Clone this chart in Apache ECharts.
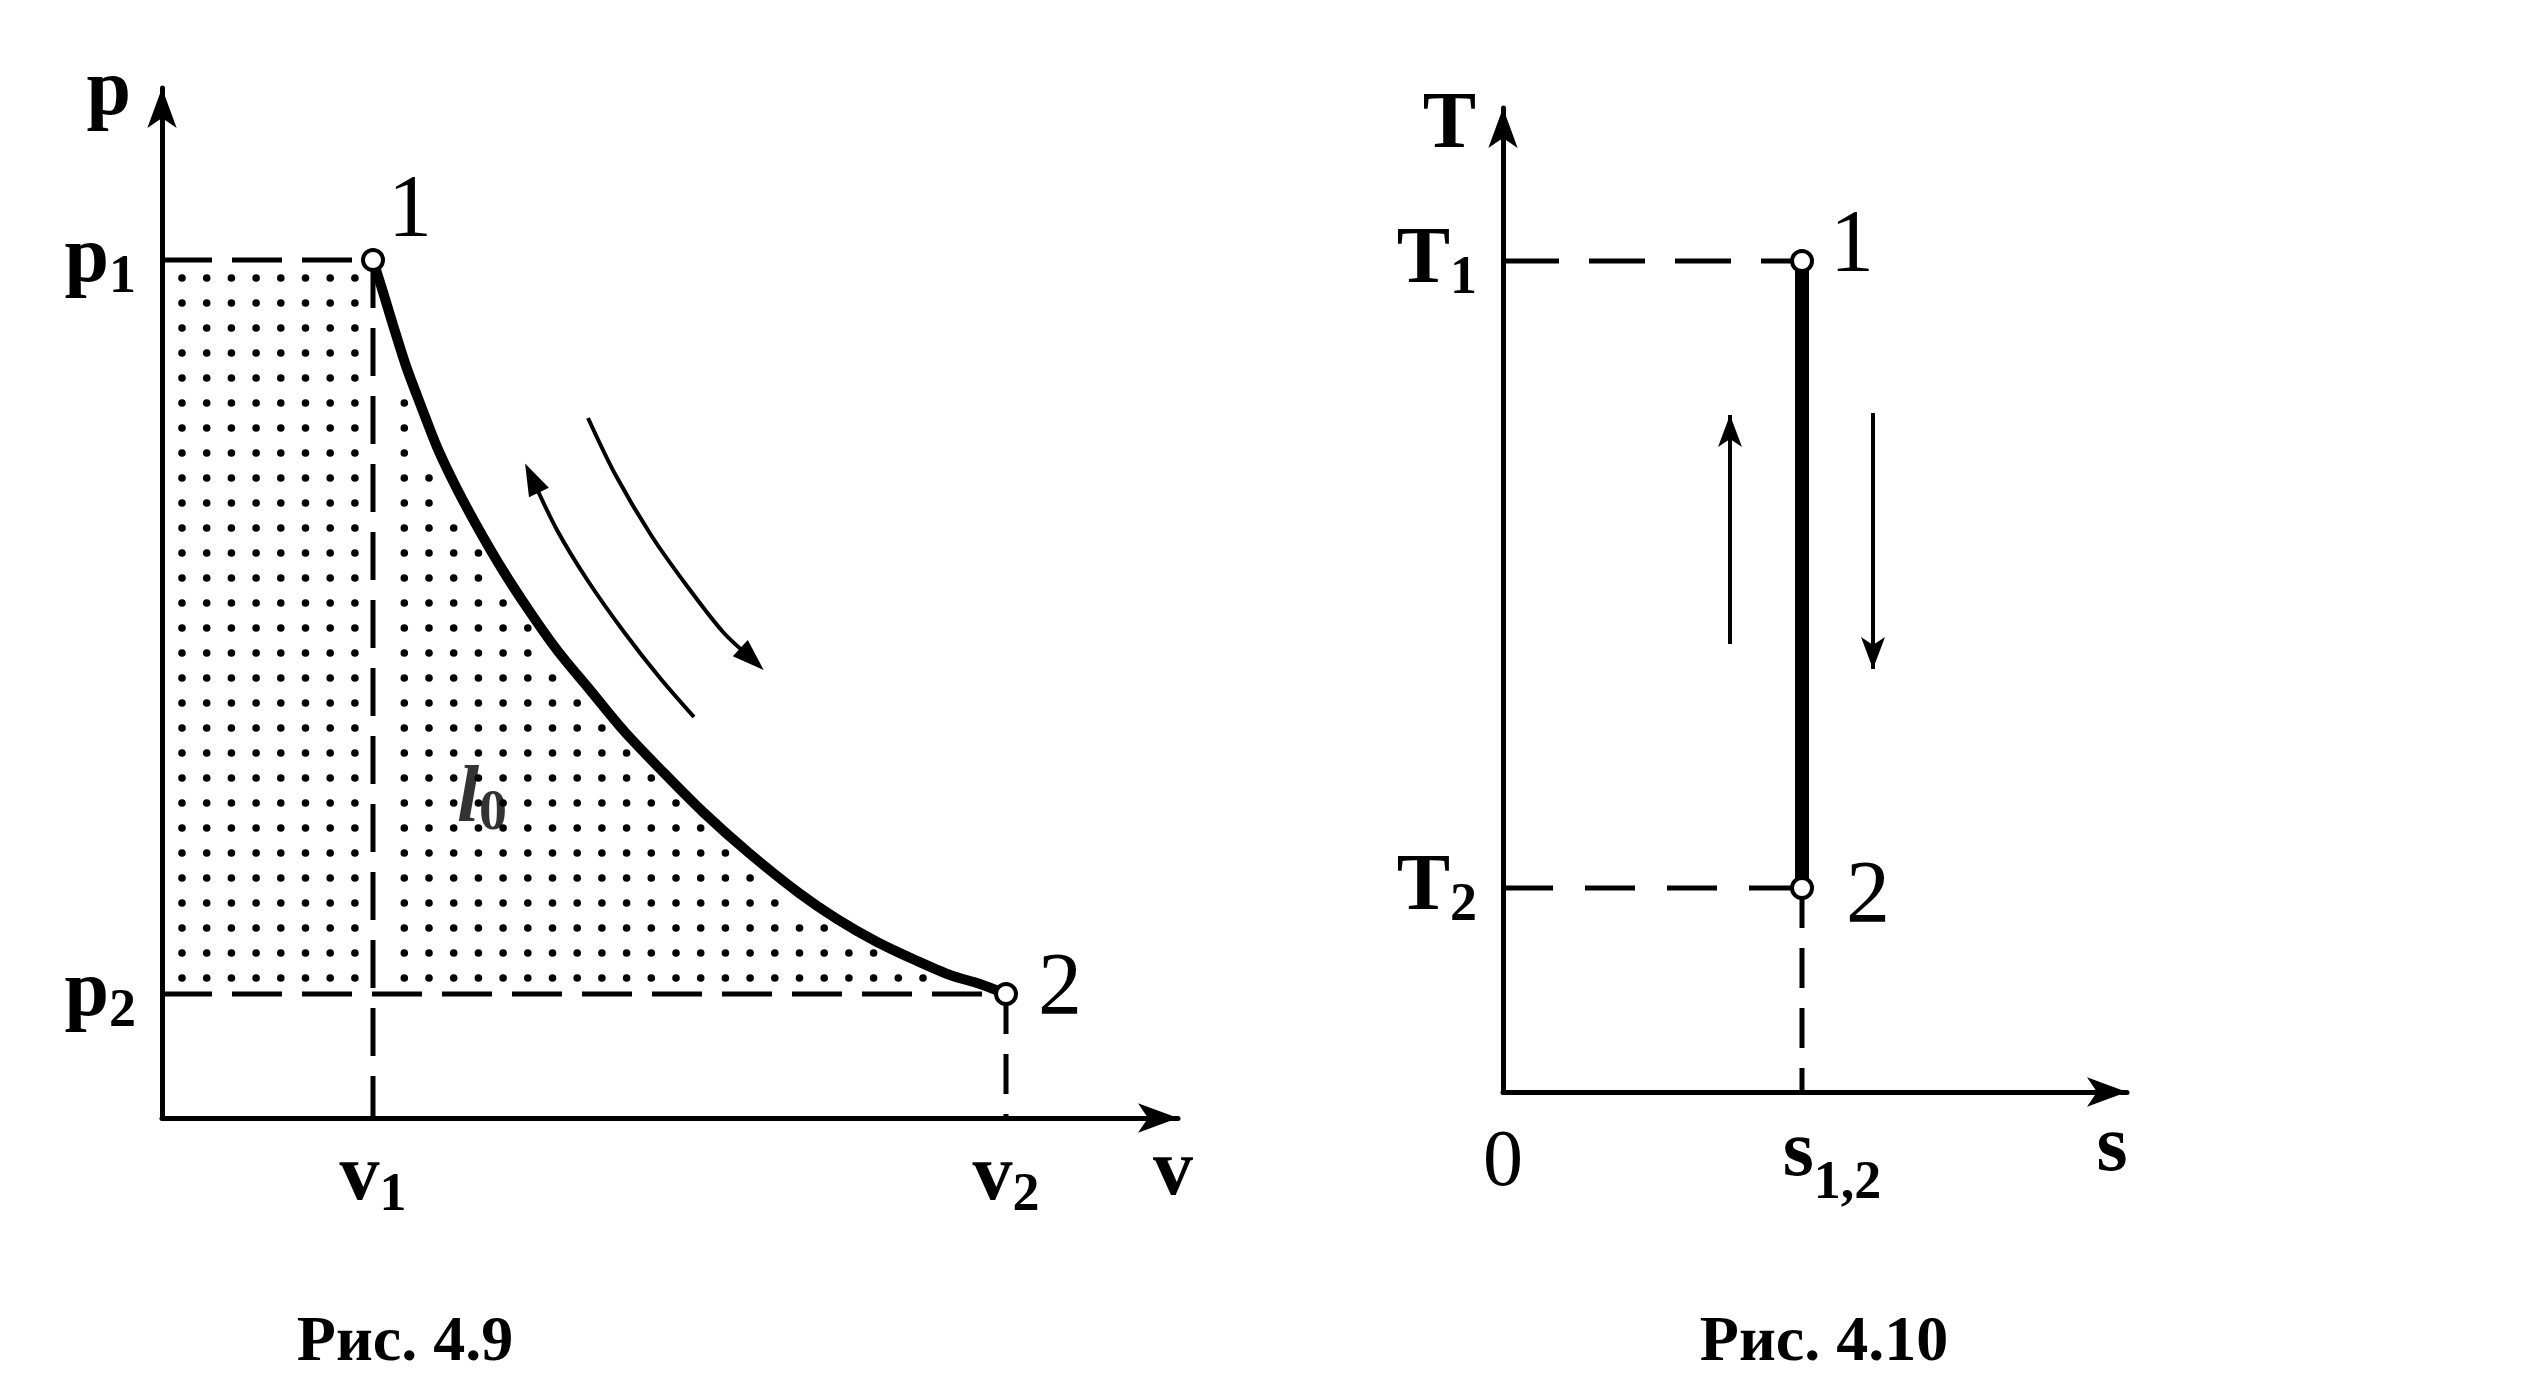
<!DOCTYPE html>
<html><head><meta charset="utf-8">
<style>html,body{margin:0;padding:0;background:#fff}#c{width:2547px;height:1384px}</style>
<script src="https://cdn.jsdelivr.net/npm/echarts@6/dist/echarts.min.js"></script>
</head><body><div id="c"></div>
<script>
// ===== DATA : p–v diagram (Рис. 4.9), arbitrary units =====
const V1 = 2.11, V2 = 8.44;          // specific volumes of states 1, 2
const P1 = 8.58, P2 = 1.24;          // pressures of states 1, 2
const curveV = [2.11, 2.21, 2.31, 2.44, 2.59, 2.75, 2.94, 3.16, 3.40, 3.66, 3.95, 4.28, 4.62, 5.01, 5.41, 5.87, 6.37, 6.75, 7.15, 7.53, 7.88, 8.18, 8.44];
const curveP = [8.58, 8.26, 7.93, 7.52, 7.12, 6.71, 6.31, 5.90, 5.49, 5.09, 4.68, 4.28, 3.87, 3.46, 3.06, 2.65, 2.25, 1.99, 1.76, 1.58, 1.43, 1.34, 1.24];
const pvPointNames = ['1', '2'];
const pvYTickValues = [P1, P2];
const pvYTickText = ['p1', 'p2'];
const pvXTickValues = [V1, V2];
const pvXTickText = ['v1', 'v2'];
const pvAxisNames = ['v', 'p'];
const workLabelText = ['l', '0'];
const workLabelAt = [3.20, 3.18];
// direction arrows drawn beside the curve (tail -> head)
const arrowBackV = [5.32, 4.98, 4.62, 4.26, 3.95, 3.70];
const arrowBackP = [4.01, 4.40, 4.86, 5.37, 5.88, 6.40];
const arrowFwdV = [4.26, 4.53, 4.89, 5.25, 5.61, 5.90];
const arrowFwdP = [7.00, 6.44, 5.83, 5.32, 4.86, 4.59];
const pvAxisMax = [10.16, 10.30];

// ===== DATA : T–s diagram (Рис. 4.10) =====
const S12 = 2.99;
const T1 = 8.31, T2 = 2.04;
const tsPointNames = ['1', '2'];
const tsYTickValues = [T1, T2];
const tsYTickText = ['T1', 'T2'];
const tsXTickValues = [0, S12];
const tsXTickText = ['0', 's1,2'];
const tsAxisNames = ['s', 'T'];
const upArrowS = 2.27, upArrowT = [4.48, 6.77];
const downArrowS = 3.70, downArrowT = [6.79, 4.23];
const tsAxisMax = [6.24, 9.84];

const captions = ['Рис. 4.9', 'Рис. 4.10'];

// ===== STYLE =====
const FONT = 'Liberation Serif';
const INK = '#000';
const F = 80, FS = 54;
const subStyle = {fontFamily: FONT, fontWeight: 'bold', fontSize: FS, color: INK, padding: [36, 0, 0, 0]};
const subStyleLow = {fontFamily: FONT, fontWeight: 'bold', fontSize: FS, color: INK, padding: [60, 0, 0, 0]};

function axisCommon() {
  return {
    type: 'value',
    axisLine: {show: true, onZero: false, symbol: ['none', 'arrow'], symbolSize: [22, 40],
      lineStyle: {color: INK, width: 5}},
    axisTick: {show: false},
    splitLine: {show: false}
  };
}
function subFormatter(values, texts) {
  return function (val) {
    let idx = 0, best = 1e9;
    values.forEach((t, i) => { const d = Math.abs(t - val); if (d < best) { best = d; idx = i; } });
    const t = texts[idx];
    if (t.length === 1) return '{z|' + t + '}';
    if (t.length > 2) return '{sp| }' + t[0] + '{s|' + t.slice(1) + '}';
    return t[0] + '{s|' + t.slice(1) + '}';
  };
}
const labelText = {fontFamily: FONT, fontWeight: 'bold', fontSize: F, color: INK, lineHeight: F};

function dashLine(pts, gi, dash) {
  return {type: 'line', xAxisIndex: gi, yAxisIndex: gi, data: pts, symbol: 'none', silent: true,
    lineStyle: {color: INK, width: 5, type: dash}, z: 3};
}
// curved arrow: smooth line through the read points + arrow head oriented along the last segment
function curvedArrow(vs, ps) {
  const n = vs.length;
  const dx = vs[n - 1] - vs[n - 2], dy = ps[n - 1] - ps[n - 2];  // both axes: 100 px per unit
  const rot = -Math.atan2(dx, dy) * 180 / Math.PI;
  return [
    {type: 'line', xAxisIndex: 0, yAxisIndex: 0, silent: true, z: 5,
     data: vs.map((v, i) => [v, ps[i]]), smooth: 0.3, symbol: 'none',
     lineStyle: {color: INK, width: 4}},
    {type: 'scatter', xAxisIndex: 0, yAxisIndex: 0, silent: true, z: 5,
     data: [[vs[n - 1], ps[n - 1]]], symbol: 'triangle', symbolSize: [22, 32], symbolRotate: rot,
     itemStyle: {color: INK, opacity: 1}}
  ];
}

// geometry helpers for the dotted fill
function insidePoly(x, y, poly) {
  let ins = false;
  for (let i = 0, j = poly.length - 1; i < poly.length; j = i++) {
    const xi = poly[i][0], yi = poly[i][1], xj = poly[j][0], yj = poly[j][1];
    if (((yi > y) !== (yj > y)) && (x < (xj - xi) * (y - yi) / (yj - yi) + xi)) ins = !ins;
  }
  return ins;
}
function distPolyline(x, y, pl) {
  let best = 1e9;
  for (let i = 0; i < pl.length - 1; i++) {
    const ax = pl[i][0], ay = pl[i][1], bx = pl[i + 1][0], by = pl[i + 1][1];
    const dx = bx - ax, dy = by - ay;
    let t = ((x - ax) * dx + (y - ay) * dy) / (dx * dx + dy * dy);
    t = Math.max(0, Math.min(1, t));
    const px = ax + t * dx, py = ay + t * dy;
    best = Math.min(best, Math.hypot(x - px, y - py));
  }
  return best;
}

const chart = echarts.init(document.getElementById('c'), null, {renderer: 'canvas', width: 2547, height: 1384});

const option = {
  animation: false,
  backgroundColor: '#fff',
  title: captions.map((t, i) => ({
    text: t, left: i === 0 ? 400 : 1819, top: 1306, textAlign: 'center',
    textStyle: {fontFamily: FONT, fontWeight: 'bold', fontSize: 64, color: INK}
  })),
  grid: [
    {left: 162, top: 88, width: 1016, height: 1030, outerBoundsMode: 'none'},
    {left: 1503, top: 108, width: 624, height: 984, outerBoundsMode: 'none'}
  ],
  xAxis: [
    Object.assign(axisCommon(), {
      gridIndex: 0, min: 0, max: pvAxisMax[0],
      axisLabel: {customValues: pvXTickValues, formatter: subFormatter(pvXTickValues, pvXTickText),
        margin: 20, verticalAlign: 'top', ...labelText, rich: {s: subStyle}},
      name: pvAxisNames[0], nameLocation: 'end', nameGap: -5,
      nameTextStyle: {...labelText, align: 'center', verticalAlign: 'top', padding: [15, 0, 0, 0]}
    }),
    Object.assign(axisCommon(), {
      gridIndex: 1, min: 0, max: tsAxisMax[0],
      axisLabel: {customValues: tsXTickValues, formatter: subFormatter(tsXTickValues, tsXTickText),
        margin: 22, verticalAlign: 'top', ...labelText,
        rich: {s: subStyleLow, z: {...labelText, fontWeight: 'normal', padding: [20, 0, 0, 0]}, sp: {width: 60, fontSize: FS}}},
      name: tsAxisNames[0], nameLocation: 'end', nameGap: -15,
      nameTextStyle: {...labelText, align: 'center', verticalAlign: 'top', padding: [17, 0, 0, 0]}
    })
  ],
  yAxis: [
    Object.assign(axisCommon(), {
      gridIndex: 0, min: 0, max: pvAxisMax[1],
      axisLabel: {customValues: pvYTickValues, formatter: subFormatter(pvYTickValues, pvYTickText),
        margin: 26, align: 'right', ...labelText, rich: {s: subStyle}},
      name: pvAxisNames[1], nameLocation: 'end', nameGap: -5,
      nameTextStyle: {...labelText, align: 'right', verticalAlign: 'middle', padding: [0, 31, 0, 0]}
    }),
    Object.assign(axisCommon(), {
      gridIndex: 1, min: 0, max: tsAxisMax[1],
      axisLabel: {customValues: tsYTickValues, formatter: subFormatter(tsYTickValues, tsYTickText),
        margin: 26, align: 'right', ...labelText, rich: {s: subStyle}},
      name: tsAxisNames[1], nameLocation: 'end', nameGap: -18,
      nameTextStyle: {...labelText, align: 'right', verticalAlign: 'middle', padding: [0, 27, 0, 0]}
    })
  ],
  series: [
    // dotted area l0 (left of the curve, between p1 and p2)
    {
      type: 'custom', xAxisIndex: 0, yAxisIndex: 0, silent: true, clip: false, z: 1,
      data: [[0, 0]],
      renderItem: function (params, api) {
        const curvePx = curveV.map((v, i) => api.coord([v, curveP[i]]));
        const poly = [api.coord([0, P1])].concat(curvePx).concat([api.coord([0, P2])]);
        const left = poly[0][0], top = poly[0][1], bottom = api.coord([0, P2])[1];
        const right = api.coord([V2, 0])[0];
        const xV1 = api.coord([V1, 0])[0];
        const children = [];
        for (let y = top + 18; y <= bottom - 10; y += 25) {
          for (let x = left + 20; x < right; x += 24.7) {
            if (Math.abs(x - xV1) < 12) continue;
            if (!insidePoly(x, y, poly)) continue;
            if (distPolyline(x, y, curvePx) < 10) continue;
            children.push({type: 'circle', shape: {cx: x, cy: y, r: 3.8}, style: {fill: INK}});
          }
        }
        return {type: 'group', children: children};
      }
    },
    dashLine([[0, P1], [V1, P1]], 0, [50, 20]),
    dashLine([[0, P2], [V2, P2]], 0, [50, 20]),
    dashLine([[V1, P1], [V1, 0]], 0, [48, 20]),
    dashLine([[V2, P2], [V2, 0]], 0, [40, 20]),
    {
      type: 'line', xAxisIndex: 0, yAxisIndex: 0, silent: true, z: 4,
      data: curveV.map((v, i) => [v, curveP[i]]),
      smooth: 0.3, symbol: 'none',
      lineStyle: {color: INK, width: 10}
    },
    {
      type: 'scatter', xAxisIndex: 0, yAxisIndex: 0, silent: true, z: 6,
      data: [[V1, P1], [V2, P2]].map((pt, i) => ({
        value: pt,
        label: {offset: i === 0 ? [37, -48] : [54, -4]}
      })),
      symbol: 'circle', symbolSize: 20,
      itemStyle: {color: '#fff', borderColor: INK, borderWidth: 4, opacity: 1},
      label: {show: true, position: 'inside', formatter: p => pvPointNames[p.dataIndex],
        fontFamily: FONT, fontSize: 88, color: INK}
    },
    {
      type: 'scatter', xAxisIndex: 0, yAxisIndex: 0, silent: true, z: 6,
      data: [workLabelAt], symbolSize: 1, itemStyle: {color: 'rgba(0,0,0,0)'},
      label: {show: true, position: 'inside',
        formatter: '{i|' + workLabelText[0] + '}{s|' + workLabelText[1] + '}',
        rich: {i: {fontFamily: FONT, fontStyle: 'italic', fontWeight: 'bold', fontSize: 80, color: INK},
               s: {fontFamily: FONT, fontWeight: 'bold', fontSize: 56, color: INK, padding: [30, 0, 0, 0]}}}
    },
    ...curvedArrow(arrowBackV, arrowBackP),
    ...curvedArrow(arrowFwdV, arrowFwdP),
    // ---- T-s diagram ----
    dashLine([[0, T1], [S12, T1]], 1, [56, 30]),
    dashLine([[0, T2], [S12, T2]], 1, [50, 32]),
    dashLine([[S12, T2], [S12, 0]], 1, [40, 20]),
    {
      type: 'line', xAxisIndex: 1, yAxisIndex: 1, silent: true, z: 4,
      data: [[S12, T2], [S12, T1]], symbol: 'none',
      lineStyle: {color: INK, width: 14}
    },
    {
      type: 'scatter', xAxisIndex: 1, yAxisIndex: 1, silent: true, z: 6,
      data: [[S12, T1], [S12, T2]].map((pt, i) => ({
        value: pt,
        label: {offset: i === 0 ? [50, -14] : [66, 10]}
      })),
      symbol: 'circle', symbolSize: 20,
      itemStyle: {color: '#fff', borderColor: INK, borderWidth: 4, opacity: 1},
      label: {show: true, position: 'inside', formatter: p => tsPointNames[p.dataIndex],
        fontFamily: FONT, fontSize: 88, color: INK},
      markLine: {
        silent: true, symbol: ['none', 'arrow'], symbolSize: [18, 32],
        label: {show: false},
        lineStyle: {color: INK, width: 4, type: 'solid'},
        data: [
          [{coord: [upArrowS, upArrowT[0]]}, {coord: [upArrowS, upArrowT[1]]}],
          [{coord: [downArrowS, downArrowT[0]]}, {coord: [downArrowS, downArrowT[1]]}]
        ]
      }
    }
  ]
};
chart.setOption(option);
</script>
</body></html>
